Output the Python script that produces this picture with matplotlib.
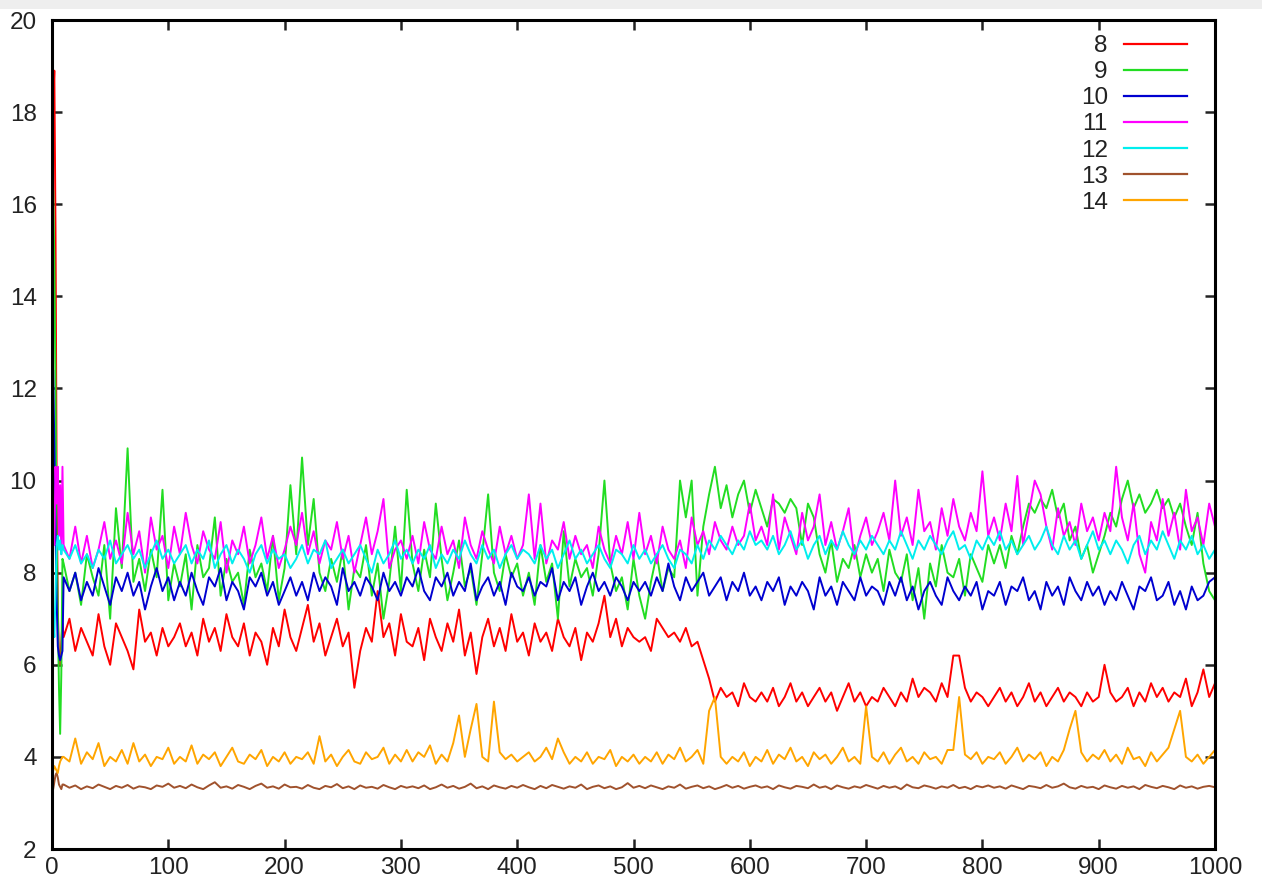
import matplotlib
matplotlib.use("Agg")
import matplotlib.pyplot as plt
from matplotlib.patches import Rectangle

# ---------------- data ----------------
labels = ["8", "9", "10", "11", "12", "13", "14"]
colors = ["#ff0000", "#22dd22", "#0000d0", "#ff00ff", "#00eeee", "#a0522d", "#ffa500"]

x_early = [0, 1, 2, 3, 4, 5, 6, 7, 8, 9]
x_main = list(range(10, 1001, 5))
x_vals = x_early + x_main

s8 = [13.4, 18.2, 18.9, 15.5, 10.0, 7.2, 6.2, 6.0, 6.5, 6.9,
      6.6, 7.0, 6.3, 6.8, 6.5, 6.2, 7.1, 6.4, 6.0, 6.9, 6.6, 6.3, 5.9, 7.2, 6.5, 6.7, 6.2, 6.8, 6.4, 6.6,
      6.9, 6.4, 6.7, 6.2, 7.0, 6.5, 6.8, 6.3, 7.1, 6.6, 6.4, 6.9, 6.2, 6.7, 6.5, 6.0, 6.8, 6.4, 7.2, 6.6,
      6.3, 6.8, 7.3, 6.5, 6.9, 6.2, 6.6, 7.0, 6.4, 6.7, 5.5, 6.3, 6.8, 6.5, 7.6, 6.6, 6.9, 6.2, 7.1, 6.5,
      6.4, 6.8, 6.1, 7.0, 6.6, 6.3, 6.9, 6.5, 7.2, 6.2, 6.7, 5.8, 6.6, 7.0, 6.4, 6.8, 6.3, 7.1, 6.5, 6.7,
      6.2, 6.9, 6.5, 6.7, 6.3, 7.0, 6.6, 6.4, 6.8, 6.1, 6.7, 6.5, 6.9, 7.5, 6.6, 7.0, 6.4, 6.8, 6.6, 6.5,
      6.6, 6.3, 7.0, 6.8, 6.6, 6.7, 6.5, 6.8, 6.4, 6.5, 6.1, 5.7, 5.2, 5.5, 5.3, 5.4, 5.1, 5.6, 5.3, 5.2,
      5.4, 5.2, 5.5, 5.1, 5.3, 5.6, 5.2, 5.4, 5.1, 5.3, 5.5, 5.2, 5.4, 5.0, 5.3, 5.6, 5.2, 5.4, 5.1, 5.3,
      5.2, 5.5, 5.3, 5.1, 5.4, 5.2, 5.7, 5.3, 5.5, 5.4, 5.2, 5.6, 5.3, 6.2, 6.2, 5.5, 5.2, 5.4, 5.3, 5.1,
      5.3, 5.5, 5.2, 5.4, 5.1, 5.3, 5.6, 5.2, 5.4, 5.1, 5.3, 5.5, 5.2, 5.4, 5.3, 5.1, 5.4, 5.2, 5.3, 6.0,
      5.4, 5.2, 5.3, 5.5, 5.1, 5.4, 5.2, 5.6, 5.3, 5.5, 5.2, 5.4, 5.3, 5.7, 5.1, 5.4, 5.9, 5.3, 5.6]

s9 = [13.5, 16.3, 14.8, 12.0, 8.6, 7.0, 5.5, 4.5, 5.8, 8.3,
      8.2, 7.6, 8.0, 7.3, 8.4, 7.9, 7.5, 8.6, 7.0, 9.4, 8.1, 10.7, 7.8, 8.3, 7.6, 8.5, 7.9, 9.8, 7.4, 8.2,
      7.7, 8.4, 7.2, 8.6, 7.9, 8.1, 9.2, 7.5, 8.3, 7.8, 8.0, 7.3, 8.5, 7.9, 8.2, 7.6, 8.8, 7.4, 8.1, 9.9,
      8.4, 10.5, 8.6, 9.6, 8.0, 7.6, 8.3, 7.8, 8.5, 7.2, 8.1, 7.9, 8.6, 7.5, 8.2, 7.0, 7.8, 9.0, 7.6, 9.8,
      8.2, 7.6, 8.5, 7.9, 9.5, 8.3, 7.4, 8.0, 8.7, 7.7, 8.1, 7.3, 8.4, 9.7, 8.0, 7.6, 8.4, 7.9, 8.2, 7.5,
      8.0, 7.3, 8.6, 7.8, 8.2, 7.0, 8.9, 7.7, 8.3, 7.9, 8.1, 7.5, 8.4, 10.0, 8.2, 7.6, 7.9, 7.2, 8.3, 7.5,
      7.0, 7.8, 8.4, 7.6, 8.1, 7.9, 10.0, 9.2, 10.0, 7.5, 9.0, 9.7, 10.3, 9.4, 9.9, 9.2, 9.7, 10.0, 9.3, 9.8,
      9.4, 9.0, 9.6, 9.5, 9.3, 9.6, 9.4, 8.6, 9.5, 9.2, 8.4, 8.0, 8.7, 7.8, 8.3, 8.1, 8.6, 7.9, 8.4, 8.0,
      8.3, 7.6, 8.5, 8.0, 7.8, 8.4, 7.4, 8.1, 7.0, 8.2, 7.7, 8.6, 8.0, 7.9, 8.3, 7.5, 8.4, 8.1, 7.8, 8.6,
      8.2, 8.6, 8.1, 8.8, 8.4, 9.0, 9.5, 9.3, 9.6, 9.4, 9.8, 9.2, 9.5, 8.7, 9.0, 8.3, 8.6, 8.0, 8.4, 8.8,
      9.3, 9.0, 9.6, 10.0, 9.4, 9.7, 9.3, 9.5, 9.8, 9.4, 9.6, 9.2, 9.5, 9.0, 8.6, 9.3, 8.2, 7.6, 7.4]

s10 = [11.2, 12.4, 10.8, 9.0, 7.4, 6.4, 6.2, 6.1, 6.2, 6.3,
       7.9, 7.6, 8.0, 7.4, 7.8, 7.5, 8.1, 7.7, 7.3, 7.9, 7.6, 8.0, 7.5, 7.8, 7.2, 7.7, 8.1, 7.6, 7.9, 7.4,
       7.8, 7.5, 8.0, 7.6, 7.3, 7.9, 7.7, 8.1, 7.4, 7.8, 7.6, 7.2, 7.9, 7.7, 8.0, 7.5, 7.8, 7.3, 7.6, 7.9,
       7.5, 7.8, 7.4, 8.0, 7.6, 7.9, 7.7, 7.3, 8.1, 7.6, 7.8, 7.5, 7.9, 7.7, 7.4, 8.0, 7.6, 7.8, 7.5, 7.9,
       7.7, 8.1, 7.6, 7.4, 7.9, 7.7, 8.0, 7.5, 7.8, 7.6, 8.2, 7.4, 7.7, 7.9, 7.5, 7.8, 7.3, 8.0, 7.7, 7.6,
       7.9, 7.5, 7.8, 7.7, 8.1, 7.4, 7.8, 7.6, 7.9, 7.3, 7.7, 8.0, 7.6, 7.8, 7.5, 7.9, 7.7, 7.4, 7.8, 7.6,
       7.8, 7.5, 7.9, 7.6, 8.2, 7.7, 7.4, 7.9, 7.6, 7.8, 8.0, 7.5, 7.7, 7.9, 7.4, 7.8, 7.6, 8.0, 7.5, 7.7,
       7.4, 7.8, 7.6, 7.9, 7.3, 7.7, 7.5, 7.8, 7.6, 7.2, 7.9, 7.5, 7.7, 7.3, 7.8, 7.6, 7.4, 7.9, 7.5, 7.7,
       7.6, 7.3, 7.8, 7.5, 7.9, 7.4, 7.7, 7.2, 7.6, 7.8, 7.5, 7.3, 7.9, 7.6, 7.4, 7.7, 7.5, 7.8, 7.2, 7.6,
       7.5, 7.8, 7.3, 7.7, 7.6, 7.9, 7.4, 7.6, 7.2, 7.8, 7.5, 7.7, 7.3, 7.9, 7.6, 7.4, 7.8, 7.5, 7.7, 7.3,
       7.6, 7.4, 7.8, 7.5, 7.2, 7.7, 7.6, 7.9, 7.4, 7.5, 7.8, 7.3, 7.6, 7.2, 7.7, 7.4, 7.5, 7.8, 7.9]

s11 = [11.3, 9.0, 8.6, 10.3, 9.5, 10.3, 8.8, 9.9, 8.4, 10.3,
       8.6, 8.3, 9.0, 8.2, 8.8, 8.1, 8.5, 9.1, 8.3, 8.7, 8.2, 9.3, 8.4, 8.9, 8.0, 9.2, 8.5, 8.8, 8.1, 9.0,
       8.4, 9.3, 8.6, 8.2, 8.9, 8.5, 8.3, 9.1, 8.0, 8.7, 8.4, 9.0, 8.2, 8.6, 9.2, 8.3, 8.8, 8.1, 8.5, 9.0,
       8.6, 9.3, 8.4, 8.9, 8.2, 8.7, 8.5, 9.1, 8.3, 8.8, 8.0, 8.6, 9.2, 8.4, 8.9, 9.6, 8.1, 8.5, 8.7, 8.3,
       8.8, 8.2, 9.1, 8.5, 8.3, 9.0, 8.4, 8.7, 8.1, 9.2, 8.6, 8.3, 8.9, 8.5, 8.2, 9.0, 8.4, 8.8, 8.3, 8.6,
       9.7, 8.3, 9.5, 8.2, 8.7, 8.5, 9.1, 8.3, 8.8, 8.4, 8.6, 8.1, 9.0, 8.5, 8.2, 8.8, 8.4, 9.1, 8.3, 9.3,
       8.4, 8.8, 8.2, 9.0, 8.5, 8.3, 8.7, 8.1, 9.2, 8.6, 8.9, 8.4, 9.1, 8.7, 8.5, 9.0, 8.6, 8.8, 9.5, 8.7,
       9.0, 8.6, 9.7, 8.5, 9.2, 8.8, 8.4, 9.3, 8.7, 9.0, 9.7, 8.6, 9.1, 8.5, 8.9, 9.4, 8.3, 8.8, 9.2, 8.6,
       8.9, 9.3, 8.7, 10.0, 8.8, 9.2, 8.6, 9.8, 8.9, 9.1, 8.5, 9.4, 8.8, 9.6, 9.0, 8.7, 9.3, 8.9, 10.2, 8.8,
       9.2, 8.7, 9.5, 8.9, 10.1, 8.6, 9.3, 10.0, 9.7, 9.0, 8.5, 9.4, 8.8, 9.1, 8.6, 9.5, 8.9, 9.2, 8.7, 9.3,
       8.9, 10.3, 9.2, 8.7, 9.5, 8.4, 8.0, 9.1, 8.7, 9.6, 8.8, 9.3, 8.5, 9.8, 8.9, 9.2, 8.6, 9.5, 9.0]

s12 = [6.5, 7.0, 6.6, 7.5, 8.6, 8.8, 8.5, 8.7, 8.4, 8.6,
       8.5, 8.3, 8.6, 8.2, 8.4, 8.1, 8.5, 8.3, 8.7, 8.2, 8.4, 8.6, 8.3, 8.5, 8.1, 8.4, 8.7, 8.3, 8.5, 8.2,
       8.4, 8.6, 8.2, 8.5, 8.3, 8.7, 8.1, 8.4, 8.6, 8.2, 8.5, 8.3, 8.0, 8.4, 8.6, 8.2, 8.5, 8.3, 8.4, 8.1,
       8.3, 8.6, 8.2, 8.5, 8.4, 8.7, 8.1, 8.3, 8.5, 8.2, 8.4, 8.6, 8.3, 8.0, 8.5, 8.2, 8.4, 8.7, 8.3, 8.5,
       8.2, 8.5, 8.3, 8.6, 8.1, 8.4, 8.2, 8.5, 8.3, 8.7, 8.4, 8.2, 8.6, 8.3, 8.5, 8.1, 8.4, 8.6, 8.3, 8.5,
       8.4, 8.2, 8.6, 8.3, 8.5, 8.1, 8.4, 8.7, 8.3, 8.5, 8.2, 8.4, 8.6, 8.3, 8.1, 8.5, 8.4, 8.2, 8.6, 8.3,
       8.5, 8.2, 8.4, 8.6, 8.3, 8.1, 8.5, 8.4, 8.2, 8.6, 8.3, 8.7, 8.5, 8.8, 8.6, 8.4, 8.7, 8.5, 8.9, 8.6,
       8.7, 8.5, 8.8, 8.4, 8.6, 8.9, 8.5, 8.7, 8.3, 8.6, 8.8, 8.4, 8.7, 8.5, 8.9, 8.6, 8.4, 8.7, 8.5, 8.8,
       8.6, 8.4, 8.7, 8.5, 8.9, 8.6, 8.3, 8.7, 8.5, 8.8, 8.6, 8.4, 8.7, 8.9, 8.5, 8.6, 8.3, 8.7, 8.5, 8.8,
       8.6, 8.9, 8.5, 8.7, 8.4, 8.6, 8.8, 8.5, 8.7, 9.0, 8.6, 8.4, 8.8, 8.5, 8.7, 8.3, 8.6, 8.9, 8.5, 8.7,
       8.4, 8.7, 8.5, 8.2, 8.6, 8.8, 8.4, 8.7, 8.5, 8.9, 8.6, 8.3, 8.7, 8.5, 8.8, 8.4, 8.6, 8.3, 8.5]

s13 = [3.25, 3.3, 3.45, 3.6, 3.65, 3.55, 3.4, 3.35, 3.3, 3.4,
       3.4, 3.33, 3.38, 3.3, 3.36, 3.32, 3.4, 3.35, 3.3, 3.37, 3.33, 3.39, 3.31, 3.36, 3.34, 3.3, 3.38, 3.35, 3.42, 3.33,
       3.37, 3.32, 3.4, 3.34, 3.3, 3.38, 3.45, 3.33, 3.36, 3.31, 3.39, 3.35, 3.3, 3.37, 3.42, 3.33, 3.36, 3.31, 3.4, 3.34,
       3.35, 3.31, 3.39, 3.33, 3.3, 3.37, 3.34, 3.41, 3.32, 3.36, 3.3, 3.38, 3.33, 3.35, 3.31, 3.39, 3.34, 3.3, 3.37, 3.33,
       3.36, 3.32, 3.38, 3.3, 3.34, 3.4, 3.33, 3.37, 3.31, 3.35, 3.42, 3.32, 3.36, 3.3, 3.38, 3.34, 3.31, 3.37, 3.33, 3.39,
       3.34, 3.3, 3.37, 3.32, 3.39, 3.35, 3.31, 3.36, 3.33, 3.4, 3.3, 3.35, 3.38, 3.32, 3.36, 3.3, 3.34, 3.43, 3.33, 3.37,
       3.32, 3.38, 3.34, 3.3, 3.36, 3.33, 3.4, 3.31, 3.35, 3.38, 3.32, 3.36, 3.3, 3.34, 3.39, 3.33, 3.37, 3.31, 3.35, 3.38,
       3.33, 3.36, 3.3, 3.38, 3.34, 3.31, 3.37, 3.35, 3.32, 3.4, 3.33, 3.36, 3.3, 3.38, 3.34, 3.31, 3.36, 3.33, 3.39, 3.35,
       3.31, 3.37, 3.33, 3.36, 3.3, 3.4, 3.34, 3.32, 3.38, 3.35, 3.31, 3.36, 3.33, 3.39, 3.32, 3.35, 3.3, 3.37, 3.34, 3.38,
       3.33, 3.36, 3.31, 3.38, 3.34, 3.3, 3.37, 3.35, 3.32, 3.39, 3.33, 3.36, 3.42, 3.34, 3.31, 3.37, 3.33, 3.35, 3.3, 3.38,
       3.34, 3.31, 3.37, 3.33, 3.36, 3.3, 3.39, 3.35, 3.32, 3.37, 3.34, 3.3, 3.38, 3.33, 3.36, 3.31, 3.35, 3.37, 3.34]

s14 = [3.75, 3.7, 3.8, 3.75, 3.7, 3.65, 3.8, 3.9, 3.95, 4.0,
       4.0, 3.9, 4.4, 3.85, 4.1, 3.95, 4.3, 3.8, 4.0, 3.9, 4.15, 3.85, 4.3, 3.9, 4.05, 3.8, 4.0, 3.95, 4.2, 3.85,
       4.0, 3.9, 4.25, 3.85, 4.05, 3.95, 4.1, 3.8, 4.0, 4.2, 3.9, 3.85, 4.05, 3.95, 4.15, 3.8, 4.0, 3.9, 4.1, 3.85,
       4.0, 3.95, 4.1, 3.85, 4.45, 3.9, 4.05, 3.8, 4.0, 4.15, 3.9, 3.85, 4.1, 3.95, 4.0, 4.2, 3.85, 4.05, 3.9, 4.15,
       3.9, 4.1, 4.0, 4.25, 3.85, 4.05, 3.9, 4.3, 4.9, 4.0, 4.6, 5.15, 4.0, 3.9, 5.2, 4.1, 3.95, 4.05, 3.9, 4.0,
       4.1, 3.9, 4.0, 4.2, 3.95, 4.4, 4.1, 3.85, 4.0, 3.9, 4.1, 3.85, 4.0, 3.95, 4.15, 3.8, 4.0, 3.9, 4.05, 3.85,
       4.0, 3.9, 4.1, 3.85, 4.05, 3.95, 4.2, 3.9, 4.0, 4.15, 3.85, 5.0, 5.3, 4.0, 3.85, 4.0, 3.9, 4.1, 3.8, 4.0,
       3.9, 4.15, 3.85, 4.05, 3.95, 4.2, 3.9, 4.0, 3.8, 4.1, 3.95, 4.05, 3.85, 4.0, 4.2, 3.9, 4.0, 3.85, 5.1, 4.0,
       3.9, 4.1, 3.85, 4.05, 4.2, 3.9, 4.0, 3.85, 4.1, 3.95, 4.0, 3.85, 4.15, 4.15, 5.3, 4.05, 3.95, 4.1, 3.85, 4.0,
       3.95, 4.1, 3.85, 4.0, 4.2, 3.9, 4.05, 3.95, 4.1, 3.8, 4.0, 3.9, 4.15, 4.6, 5.0, 4.1, 3.9, 4.05, 3.95, 4.15,
       3.9, 4.05, 3.85, 4.2, 3.95, 4.0, 3.8, 4.1, 3.9, 4.05, 4.2, 4.6, 5.0, 4.0, 3.9, 4.05, 3.85, 4.0, 4.15]

series = [s8, s9, s10, s11, s12, s13, s14]

x_ticks = [0, 100, 200, 300, 400, 500, 600, 700, 800, 900, 1000]
y_ticks = [2, 4, 6, 8, 10, 12, 14, 16, 18, 20]

# ---------------- figure ----------------
plt.rcParams['font.family'] = ['Liberation Sans', 'DejaVu Sans']
fig = plt.figure(figsize=(12.62, 8.9), dpi=100)
fig.patches.append(Rectangle((0, 1 - 9 / 890), 1, 9 / 890, transform=fig.transFigure,
                             facecolor='#eeeeee', edgecolor='none', zorder=0))
ax = fig.add_axes([52 / 1262, 1 - 849 / 890, (1215 - 52) / 1262, (849 - 20) / 890])

for lab, col, ys in zip(labels, colors, series):
    ax.plot(x_vals, ys, color=col, linewidth=1.4, label=lab)

ax.set_xlim(0, 1000)
ax.set_ylim(2, 20)
ax.set_xticks(x_ticks)
ax.set_yticks(y_ticks)
ax.tick_params(direction='in', length=7, width=1.8, top=True, right=True,
               labelsize=17.5, colors='#222222')
ax.tick_params(axis='x', pad=6)
ax.tick_params(axis='y', pad=11)
for sp in ax.spines.values():
    sp.set_linewidth(2.2)
    sp.set_color('black')

leg = ax.legend(loc='upper right', bbox_to_anchor=(1187 / 1262, 1 - 35 / 890),
                bbox_transform=fig.transFigure, frameon=False, markerfirst=False,
                fontsize=17.5, handlelength=2.6, handletextpad=0.66, labelspacing=0.17,
                borderaxespad=0.0, borderpad=0.0)
for line in leg.get_lines():
    line.set_linewidth(1.6)
for t in leg.get_texts():
    t.set_ha('right')
    t.set_color('#222222')

fig.savefig('out.png', dpi=100)
